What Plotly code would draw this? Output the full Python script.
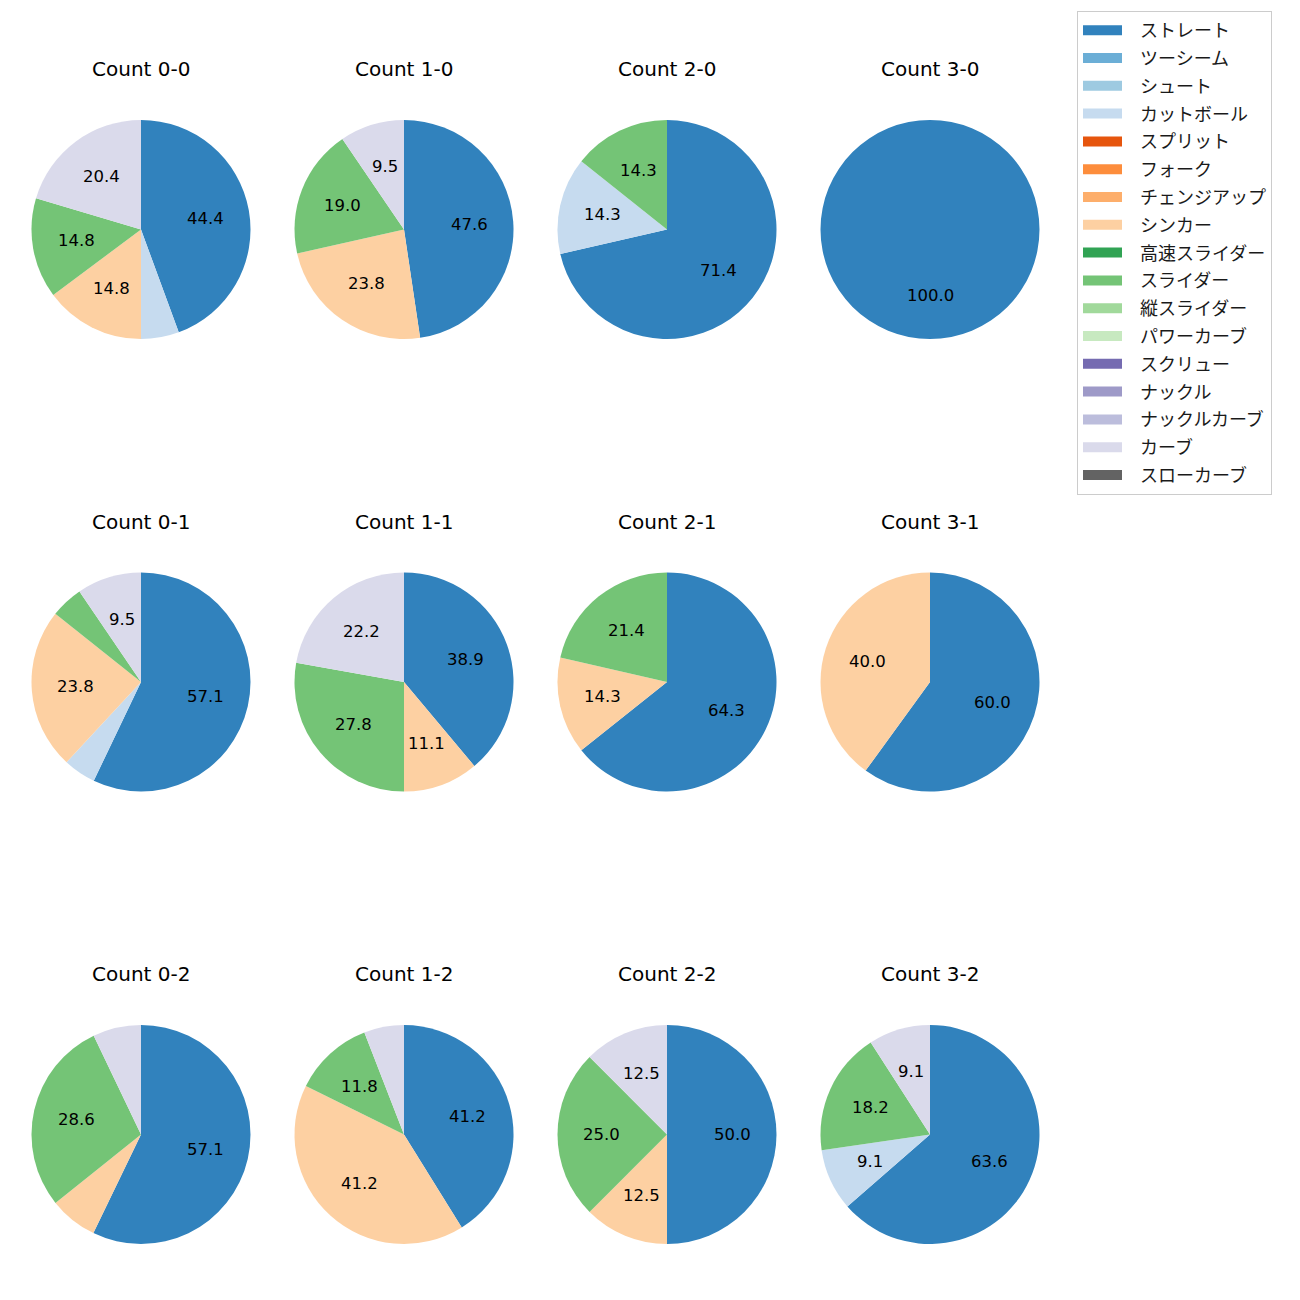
import math
import plotly.graph_objects as go

# ---------------- data ----------------
pitch_types = ["ストレート", "ツーシーム", "シュート", "カットボール", "スプリット", "フォーク",
               "チェンジアップ", "シンカー", "高速スライダー", "スライダー", "縦スライダー",
               "パワーカーブ", "スクリュー", "ナックル", "ナックルカーブ", "カーブ", "スローカーブ"]
pitch_colors = ["#3182bd", "#6baed6", "#9ecae1", "#c6dbef", "#e6550d", "#fd8d3c",
                "#fdae6b", "#fdd0a2", "#31a354", "#74c476", "#a1d99b",
                "#c7e9c0", "#756bb1", "#9e9ac8", "#bcbddc", "#dadaeb", "#636363"]

c00_types = ["ストレート", "カットボール", "シンカー", "スライダー", "カーブ"]
c00_values = [44.4, 5.6, 14.8, 14.8, 20.4]
c10_types = ["ストレート", "シンカー", "スライダー", "カーブ"]
c10_values = [47.6, 23.8, 19.0, 9.5]
c20_types = ["ストレート", "カットボール", "スライダー"]
c20_values = [71.4, 14.3, 14.3]
c30_types = ["ストレート"]
c30_values = [100.0]

c01_types = ["ストレート", "カットボール", "シンカー", "スライダー", "カーブ"]
c01_values = [57.1, 4.8, 23.8, 4.8, 9.5]
c11_types = ["ストレート", "シンカー", "スライダー", "カーブ"]
c11_values = [38.9, 11.1, 27.8, 22.2]
c21_types = ["ストレート", "シンカー", "スライダー"]
c21_values = [64.3, 14.3, 21.4]
c31_types = ["ストレート", "シンカー"]
c31_values = [60.0, 40.0]

c02_types = ["ストレート", "シンカー", "スライダー", "カーブ"]
c02_values = [57.1, 7.1, 28.6, 7.1]
c12_types = ["ストレート", "シンカー", "スライダー", "カーブ"]
c12_values = [41.2, 41.2, 11.8, 5.9]
c22_types = ["ストレート", "シンカー", "スライダー", "カーブ"]
c22_values = [50.0, 12.5, 25.0, 12.5]
c32_types = ["ストレート", "カットボール", "スライダー", "カーブ"]
c32_values = [63.6, 9.1, 18.2, 9.1]

count_titles = [["Count 0-0", "Count 1-0", "Count 2-0", "Count 3-0"],
                ["Count 0-1", "Count 1-1", "Count 2-1", "Count 3-1"],
                ["Count 0-2", "Count 1-2", "Count 2-2", "Count 3-2"]]

# ---------------- layout ----------------
W = H = 1300
OFF = 8  # page body margin around the figure div
col_x = [141 - OFF, 404 - OFF, 667 - OFF, 930 - OFF]
row_y = [229.5 - OFF, 682 - OFF, 1134.5 - OFF]
R = 109.5
TITLE_OFFSET = 160.5
LABEL_MIN = 8.0

color_of = dict(zip(pitch_types, pitch_colors))
grid = [[(c00_types, c00_values), (c10_types, c10_values), (c20_types, c20_values), (c30_types, c30_values)],
        [(c01_types, c01_values), (c11_types, c11_values), (c21_types, c21_values), (c31_types, c31_values)],
        [(c02_types, c02_values), (c12_types, c12_values), (c22_types, c22_values), (c32_types, c32_values)]]

fig = go.Figure()

# legend entries: empty line traces give wide rectangular swatches
for name, col in zip(pitch_types, pitch_colors):
    fig.add_trace(go.Scatter(
        x=[None], y=[None], mode="lines", name=name,
        line=dict(color=col, width=13, dash="39px,200px"),
        legendgroup=name, showlegend=True, hoverinfo="skip",
    ))

annotations = []
for r, row in enumerate(grid):
    for c, (types, values) in enumerate(row):
        cx, cy = col_x[c], row_y[r]
        fig.add_trace(go.Pie(
            labels=types, values=values,
            marker=dict(colors=[color_of[t] for t in types], line=dict(width=0)),
            sort=False, direction="clockwise", rotation=0,
            textinfo="none", hoverinfo="label+percent", showlegend=False,
            domain=dict(x=[(cx - R) / W, (cx + R) / W], y=[1 - (cy + R) / H, 1 - (cy - R) / H]),
        ))
        annotations.append(dict(
            x=cx / W, y=1 - (cy - TITLE_OFFSET) / H, xref="paper", yref="paper",
            text=count_titles[r][c], showarrow=False, xanchor="center", yanchor="middle",
            font=dict(family="DejaVu Sans", size=20, color="black"),
        ))
        total = sum(values)
        cum = 0.0
        for v in values:
            mid = 2 * math.pi * (cum + v / 2) / total
            cum += v
            if v < LABEL_MIN:
                continue
            lx = cx + 0.6 * R * math.sin(mid)
            ly = cy - 0.6 * R * math.cos(mid)
            annotations.append(dict(
                x=lx / W, y=1 - ly / H, xref="paper", yref="paper",
                text=f"{v:.1f}", showarrow=False, xanchor="center", yanchor="middle",
                font=dict(family="DejaVu Sans", size=16.5, color="black"),
            ))

fig.update_layout(
    width=W, height=H,
    margin=dict(l=0, r=0, t=0, b=0),
    paper_bgcolor="white", plot_bgcolor="white",
    xaxis=dict(visible=False), yaxis=dict(visible=False),
    annotations=annotations,
    legend=dict(
        x=(1077 - OFF) / W, y=1 - (11 - OFF) / H, xanchor="left", yanchor="top",
        bordercolor="#cccccc", borderwidth=1, bgcolor="white",
        font=dict(family="Noto Sans CJK JP", size=18, color="#1a1a1a"),
        traceorder="grouped", tracegroupgap=1.4, itemwidth=52,
    ),
)

fig.write_html("out.html")
